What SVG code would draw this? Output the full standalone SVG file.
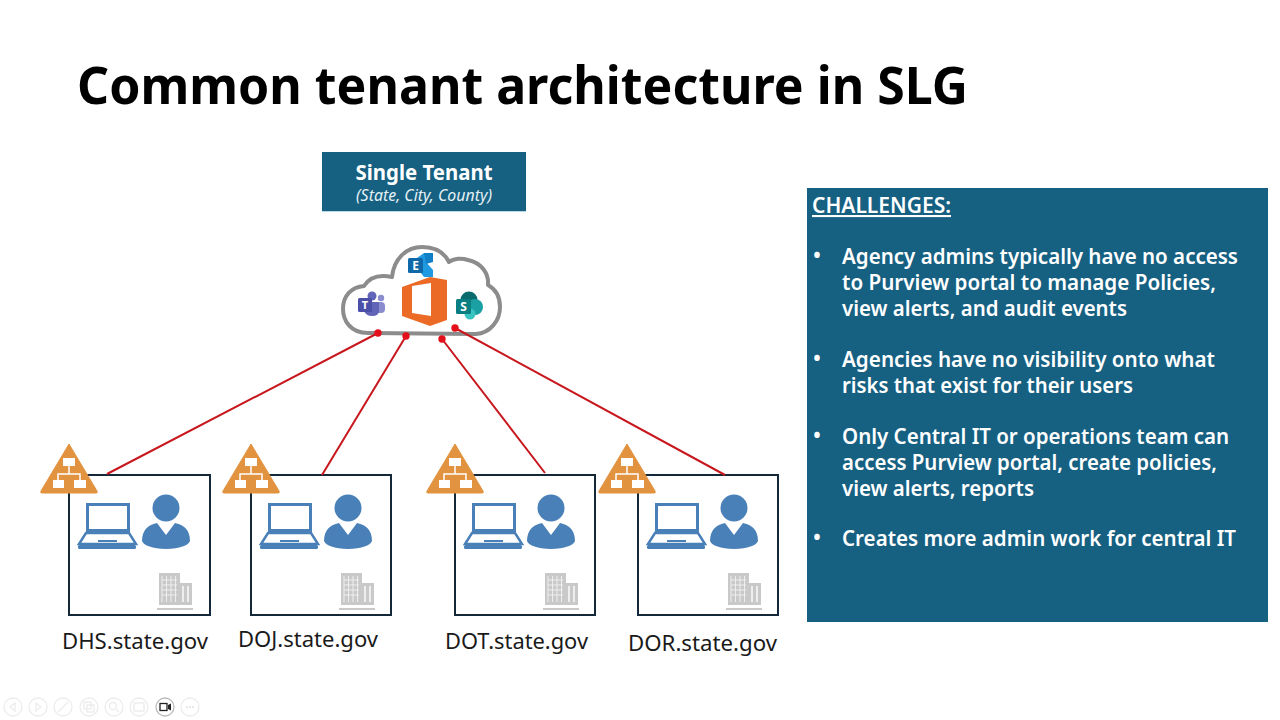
<svg xmlns="http://www.w3.org/2000/svg" width="1280" height="720" viewBox="0 0 1280 720">
<style>
text{font-family:"Noto Sans","Open Sans","Liberation Sans",sans-serif}
.title{font-size:52px;font-weight:700;fill:#000}
.panel{fill:#166082}
.lab{font-size:22px;fill:#1a1a1a}
.body{font-size:21px;font-weight:600;fill:#fff}
.conn{stroke:#c8161d;stroke-width:2;fill:none}
.dot{fill:#e3101c}
.box{fill:#fff;stroke:#14283a;stroke-width:2}
.blue{fill:#4a80b8}
.tb{fill:none;stroke:#ececec;stroke-width:1.3}
</style>
<defs>
<g id="tri">
<path d="M0,-30 L28,17 Q29,19 27,19 L-27,19 Q-29,19 -28,17 Z" fill="#e29340" stroke="#e29340" stroke-linejoin="round"/>
<path d="M0,-9 V0 M-11,7 V0 H11 V7" fill="none" stroke="#fff" stroke-width="1.500"/>
<rect x="-6" y="-16" width="12" height="8" fill="#fff"/>
<rect x="-16" y="6" width="11" height="8" fill="#fff"/>
<rect x="5" y="6" width="12" height="8" fill="#fff"/>
</g>
<g id="laptop">
<rect x="18.500" y="29.500" width="41" height="26" fill="#fff" stroke="#4a80b8" stroke-width="3"/>
<path d="M17,58 H60 L67,69 H10 Z" fill="#fff" stroke="#4a80b8" stroke-width="2.500"/>
<rect x="9" y="70" width="58" height="4" rx="1.500" class="blue"/>
<rect x="29" y="65" width="19" height="2" class="blue"/>
</g>
<g id="person">
<circle cx="0" cy="0" r="13.500" class="blue"/>
<path d="M-9,15 L0,27 L9,15 Q24,18 24,33 Q21,40 0,41 Q-21,40 -24,33 Q-24,18 -9,15 Z" class="blue"/>
</g>
<g id="bldg" fill="#c9c9c9">
<path d="M0,0 H21 V10 H33 V32 H0 Z"/>
<path d="M3,3 V29 M7.500,3 V29 M12,3 V29 M16.500,3 V29 M3,7 H18 M3,12 H18 M3,17 H18 M3,22 H18" stroke="#eee" stroke-width="1" fill="none"/>
<path d="M24,13 V29 M29,13 V29" stroke="#eee" stroke-width="2" fill="none"/>
<rect x="-2" y="35" width="36" height="2"/>
</g>
</defs>
<rect width="1280" height="720" fill="#fff"/>
<text class="title" x="77" y="104" textLength="891" lengthAdjust="spacingAndGlyphs">Common tenant architecture in SLG</text>

<g id="single-tenant">
<rect class="panel" x="322" y="152" width="204" height="59"/>
<rect x="322" y="211" width="204" height="1" fill="#b5dbe8"/>
<text x="424" y="180" text-anchor="middle" font-size="21" font-weight="700" fill="#fff" textLength="137" lengthAdjust="spacingAndGlyphs">Single Tenant</text>
<text x="424" y="201" text-anchor="middle" font-size="15.500" font-style="italic" fill="#e4f0f5" textLength="136" lengthAdjust="spacingAndGlyphs">(State, City, County)</text>
</g>

<g id="cloud">
<path d="M368,333 C350,333 343,320 343,309 C343,295 352,287 364,286 C369,278 378,274 392,277 C394,258 407,247 422,247 C434,247 444,252 449,262 C454,258 462,258 468,260 C482,263 489,274 488,285 C497,290 500,298 500,307 C500,321 490,333 476,334 Z" fill="#fff" stroke="#8c8c8c" stroke-width="4" stroke-linejoin="round"/>
<path fill-rule="evenodd" d="M402,287 L430,277 L447,280 V320 L430,326 L402,316 Z M412,286 V313 L431,316 V283 Z" fill="#eb6b26"/>
<g id="exchange">
<path d="M417,258 L424,253 H431 L426,262 L433,270 V277 H424 L417,268 Z" fill="#1f9ae0"/>
<path d="M424,253 H433 V262 L426,264 Z" fill="#0f7fc8"/>
<rect x="408" y="258" width="15" height="15" rx="1.500" fill="#0f68a8"/>
<text x="415.500" y="270" text-anchor="middle" font-size="12" font-weight="700" fill="#fff">E</text>
</g>
<g id="teams">
<circle cx="372" cy="296" r="4.500" fill="#6264b8"/>
<circle cx="381" cy="298" r="3.200" fill="#8b8cd0"/>
<rect x="376" y="302" width="9" height="11" rx="4" fill="#8b8cd0"/>
<path d="M364,302 H379 V311 Q379,316 372,316 Q366,316 364,311 Z" fill="#6264b8"/>
<rect x="358" y="298" width="14" height="14" rx="1.500" fill="#4b4fa8"/>
<text x="365" y="309" text-anchor="middle" font-size="11" font-weight="700" fill="#fff">T</text>
</g>
<g id="sharepoint">
<circle cx="469" cy="300" r="8.500" fill="#0b6a6d"/>
<circle cx="475" cy="307" r="8" fill="#1aa0a2"/>
<circle cx="470" cy="314" r="5.500" fill="#38c4c0"/>
<rect x="456" y="299" width="15" height="15" rx="1.500" fill="#0a7e80"/>
<text x="463.500" y="311" text-anchor="middle" font-size="12" font-weight="700" fill="#fff">S</text>
</g>
</g>

<g id="unit-dhs">
<rect class="box" x="69" y="475" width="141" height="140"/>
<use href="#tri" x="69" y="474"/>
<use href="#laptop" x="69" y="475"/>
<use href="#person" x="166" y="508"/>
<use href="#bldg" x="159" y="573"/>
<text class="lab" x="62" y="649" textLength="146" lengthAdjust="spacingAndGlyphs">DHS.state.gov</text>
</g>
<g id="unit-doj">
<rect class="box" x="251" y="475" width="140" height="140"/>
<use href="#tri" x="251" y="474"/>
<use href="#laptop" x="251" y="475"/>
<use href="#person" x="348" y="508"/>
<use href="#bldg" x="341" y="573"/>
<text class="lab" x="238" y="647" textLength="140" lengthAdjust="spacingAndGlyphs">DOJ.state.gov</text>
</g>
<g id="unit-dot">
<rect class="box" x="455" y="475" width="140" height="140"/>
<use href="#tri" x="455" y="474"/>
<use href="#laptop" x="455" y="475"/>
<use href="#person" x="551" y="508"/>
<use href="#bldg" x="545" y="573"/>
<text class="lab" x="445" y="649" textLength="143" lengthAdjust="spacingAndGlyphs">DOT.state.gov</text>
</g>
<g id="unit-dor">
<rect class="box" x="638" y="475" width="140" height="140"/>
<use href="#tri" x="627" y="474"/>
<use href="#laptop" x="638" y="475"/>
<use href="#person" x="734" y="508"/>
<use href="#bldg" x="728" y="573"/>
<text class="lab" x="628" y="651" textLength="149" lengthAdjust="spacingAndGlyphs">DOR.state.gov</text>
</g>

<g id="connectors">
<path class="conn" d="M378,333 L107,474"/>
<path class="conn" d="M406,336 L322,475"/>
<path class="conn" d="M442,339 L545,473"/>
<path class="conn" d="M455,328 L725,475"/>
<circle class="dot" cx="378" cy="333" r="3.700"/>
<circle class="dot" cx="406" cy="336" r="3.700"/>
<circle class="dot" cx="442" cy="339" r="3.700"/>
<circle class="dot" cx="455" cy="328" r="3.700"/>
</g>

<g id="challenges">
<rect class="panel" x="807" y="188" width="461" height="434"/>
<text class="body" x="812" y="213" text-decoration="underline" textLength="139" lengthAdjust="spacingAndGlyphs">CHALLENGES:</text>
<g class="body">
<text x="813" y="263">•</text>
<text x="842" y="264" textLength="396" lengthAdjust="spacingAndGlyphs">Agency admins typically have no access</text>
<text x="842" y="290" textLength="374" lengthAdjust="spacingAndGlyphs">to Purview portal to manage Policies,</text>
<text x="842" y="316" textLength="285" lengthAdjust="spacingAndGlyphs">view alerts, and audit events</text>
<text x="813" y="366">•</text>
<text x="842" y="367" textLength="373" lengthAdjust="spacingAndGlyphs">Agencies have no visibility onto what</text>
<text x="842" y="393" textLength="291" lengthAdjust="spacingAndGlyphs">risks that exist for their users</text>
<text x="813" y="443">•</text>
<text x="842" y="443.500" textLength="387" lengthAdjust="spacingAndGlyphs">Only Central IT or operations team can</text>
<text x="842" y="469.500" textLength="375" lengthAdjust="spacingAndGlyphs">access Purview portal, create policies,</text>
<text x="842" y="495.500" textLength="192" lengthAdjust="spacingAndGlyphs">view alerts, reports</text>
<text x="813" y="545">•</text>
<text x="842" y="546" textLength="394" lengthAdjust="spacingAndGlyphs">Creates more admin work for central IT</text>
</g>
</g>

<g id="toolbar">
<circle class="tb" cx="13" cy="707" r="9"/><path class="tb" d="M15,703 L10,707 L15,711 Z"/>
<circle class="tb" cx="38" cy="707" r="9"/><path class="tb" d="M36,703 L41,707 L36,711 Z"/>
<circle class="tb" cx="63" cy="707" r="9"/><path class="tb" d="M58,712 L68,702"/>
<circle class="tb" cx="89" cy="707" r="9"/><rect class="tb" x="84" y="702" width="7" height="7"/><rect class="tb" x="87" y="705" width="7" height="7"/>
<circle class="tb" cx="114" cy="707" r="9"/><circle class="tb" cx="113" cy="706" r="3.500"/><path class="tb" d="M116,709 L119,712"/>
<circle class="tb" cx="139" cy="707" r="9"/><rect class="tb" x="134" y="703" width="10" height="8"/>
<circle cx="165" cy="707" r="9" fill="#fff" stroke="#bbb" stroke-width="1.300"/><rect x="160" y="703.500" width="7" height="7" fill="none" stroke="#222" stroke-width="1.300"/><path d="M168,705 L171,703.500 V710.500 L168,709 Z" fill="#222"/>
<circle class="tb" cx="190" cy="707" r="9"/><path d="M186,707 H194" stroke="#e8e8e8" stroke-width="2" stroke-dasharray="2 1"/>
</g>
</svg>
